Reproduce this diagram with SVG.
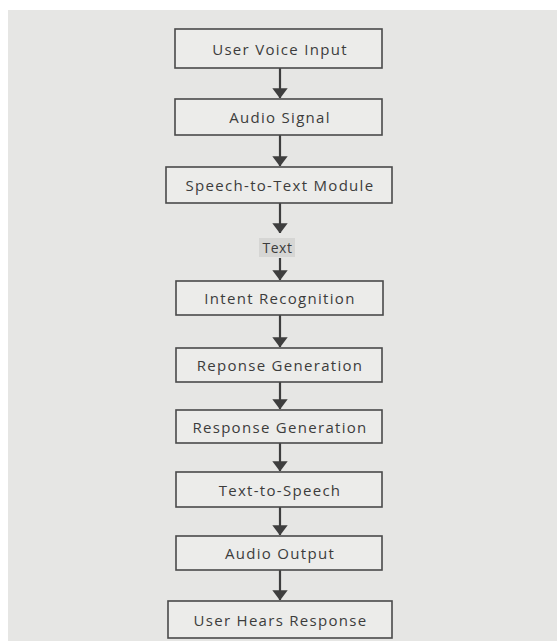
<svg xmlns="http://www.w3.org/2000/svg" width="557" height="641" viewBox="0 0 557 641">
<style>
.node rect{fill:#ececea;stroke:#4a4a4a;stroke-width:1.6}
.node text{font-family:"Open Sans","Noto Sans",sans-serif;font-size:15px;fill:#3c3c3c;text-anchor:middle;dominant-baseline:central;letter-spacing:1.3px}
.conn line{stroke:#3e3e3e;stroke-width:2.2}
</style>
<defs>
<marker id="ah" markerWidth="4.6" markerHeight="7" refX="4.4" refY="3.5" orient="auto" markerUnits="strokeWidth">
<path d="M0,0 L4.6,3.5 L0,7 Z" fill="#3e3e3e"/>
</marker>
</defs>
<rect x="0" y="0" width="557" height="641" fill="#ffffff"/>
<rect x="8" y="10" width="549" height="631" fill="#e6e6e4"/>
<g class="conn">
<line x1="280" y1="68" x2="280" y2="98" marker-end="url(#ah)"/>
<line x1="280" y1="135" x2="280" y2="166" marker-end="url(#ah)"/>
<line x1="280" y1="203" x2="280" y2="233" marker-end="url(#ah)"/>
<line x1="280" y1="258" x2="280" y2="280" marker-end="url(#ah)"/>
<line x1="280" y1="315" x2="280" y2="347" marker-end="url(#ah)"/>
<line x1="280" y1="382" x2="280" y2="409" marker-end="url(#ah)"/>
<line x1="280" y1="443" x2="280" y2="471" marker-end="url(#ah)"/>
<line x1="280" y1="507" x2="280" y2="535" marker-end="url(#ah)"/>
<line x1="280" y1="570" x2="280" y2="600" marker-end="url(#ah)"/>
</g>
<g id="n1" class="node"><rect x="175" y="29" width="207" height="39"/><text x="280" y="48.5">User Voice Input</text></g>
<g id="n2" class="node"><rect x="175" y="99" width="207" height="36"/><text x="280" y="117">Audio Signal</text></g>
<g id="n3" class="node"><rect x="166" y="167" width="226" height="36"/><text x="280" y="185">Speech-to-Text Module</text></g>
<g id="lbl" class="node"><rect x="259" y="238" width="36" height="19" style="fill:#d6d6d4;stroke:none"/><text x="277.5" y="247.5" style="letter-spacing:0.5px;font-size:14px">Text</text></g>
<g id="n4" class="node"><rect x="176" y="281" width="207" height="34"/><text x="280" y="298">Intent Recognition</text></g>
<g id="n5" class="node"><rect x="176" y="348" width="206" height="34"/><text x="280" y="365">Reponse Generation</text></g>
<g id="n6" class="node"><rect x="176" y="410" width="206" height="33"/><text x="280" y="426.5">Response Generation</text></g>
<g id="n7" class="node"><rect x="176" y="472" width="206" height="35"/><text x="280" y="489.5">Text-to-Speech</text></g>
<g id="n8" class="node"><rect x="176" y="536" width="206" height="34"/><text x="280" y="553">Audio Output</text></g>
<g id="n9" class="node"><rect x="168" y="601" width="224" height="37"/><text x="280.5" y="619.5">User Hears Response</text></g>
</svg>
